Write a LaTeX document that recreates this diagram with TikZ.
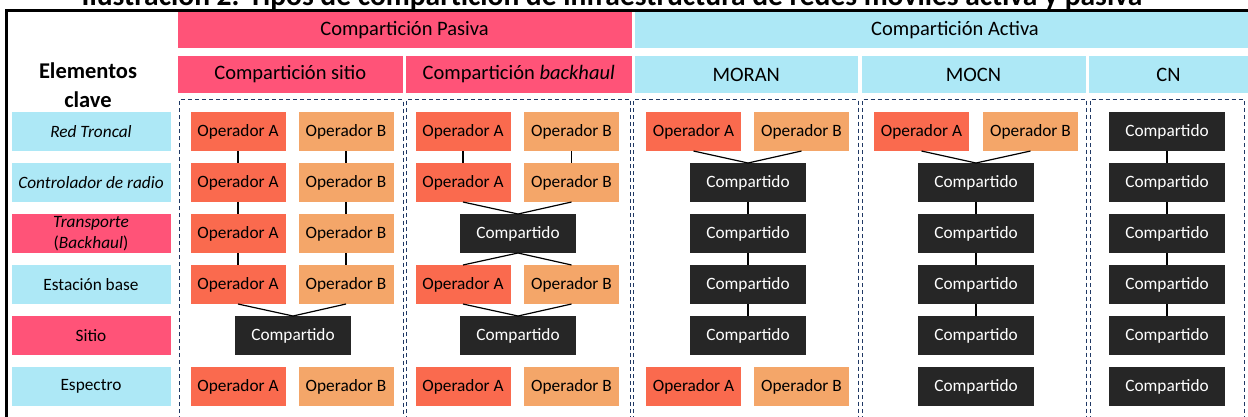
\documentclass[tikz,border=0pt]{standalone}
\usepackage{fontspec}
\setmainfont{Carlito}
\definecolor{pinkh}{RGB}{255,83,120}
\definecolor{cyanh}{RGB}{173,232,246}
\definecolor{opacol}{RGB}{250,106,78}
\definecolor{opbcol}{RGB}{244,166,105}
\definecolor{shcol}{RGB}{38,38,38}
\definecolor{navy}{RGB}{31,56,100}
\begin{document}
\begin{tikzpicture}[x=1pt,y=-1pt,
  box/.style={inner sep=0pt, outer sep=0pt, minimum height=39pt, font=\fontsize{17.3}{21}\selectfont},
  opa/.style={box, fill=opacol, minimum width=95pt},
  opb/.style={box, fill=opbcol, minimum width=95pt},
  shr/.style={box, fill=shcol, text=white, minimum width=116pt},
  lblc/.style={box, fill=cyanh, minimum width=159pt, align=center},
  lblp/.style={box, fill=pinkh, minimum width=159pt, align=center},
  hdr/.style={inner sep=0pt, outer sep=0pt, font=\fontsize{20.5}{24}\selectfont},
  conn/.style={line width=1.2pt, black},
  dbox/.style={draw=navy, line width=1pt, dash pattern=on 4pt off 3pt}
]
\useasboundingbox (0,0) rectangle (1248,416);
\clip (0,0) rectangle (1248,416);
% title
\node[anchor=base, inner sep=0pt, font=\fontsize{29.5}{34}\selectfont\bfseries] (title) at (612,5.5) {Ilustración 2. Tipos de compartición de infraestructura de redes móviles activa y pasiva};
% frame
\draw[line width=2.5pt] (6.5,420) -- (6.5,10.5) -- (1252,10.5);
% headers row 1
\node[hdr, fill=pinkh, minimum width=454pt, minimum height=36pt] (pas) at (404.5,30) {Compartición Pasiva};
\node[hdr, fill=cyanh, minimum width=616pt, minimum height=36pt] (act) at (942.5,30) {};
\node[hdr] (actt) at (955,30) {Compartición Activa};
% headers row 2
\node[hdr, fill=pinkh, minimum width=225.5pt, minimum height=37pt] (h1) at (290.25,74.5) {Compartición sitio};
\node[hdr, fill=pinkh, minimum width=225.5pt, minimum height=37pt] (h2) at (518.75,74.5) {Compartición \textit{backhaul}};
\node[hdr, fill=cyanh, minimum width=223.5pt, minimum height=37pt] (h3) at (746.25,74.5) {MORAN};
\node[hdr, fill=cyanh, minimum width=224pt, minimum height=37pt] (h4) at (973.5,74.5) {MOCN};
\node[hdr, fill=cyanh, minimum width=159pt, minimum height=37pt] (h5) at (1168.5,74.5) {CN};
% key elements
\node[align=center, inner sep=0pt, font=\fontsize{22.5}{29}\selectfont\bfseries] (ek) at (88,85) {Elementos\\clave};
% left labels
\node[lblc] (l1) at (91,131.5) {\textit{Red Troncal}};
\node[lblc] (l2) at (91,182.5) {\textit{Controlador de radio}};
\node[lblp, font=\fontsize{17.3}{21.5}\selectfont] (l3) at (91,233.5) {\textit{Transporte}\\(\textit{Backhaul})};
\node[lblc] (l4) at (91,284.5) {Estación base};
\node[lblp] (l5) at (91,335.5) {Sitio};
\node[lblc] (l6) at (91,386.5) {Espectro};
% dashed column boxes
\draw[dbox] (179.5,420) -- (179.5,99.5) -- (403,99.5) -- (403,420);
\draw[dbox] (406.5,420) -- (406.5,99.5) -- (630.5,99.5) -- (630.5,420);
\draw[dbox] (633.5,420) -- (633.5,99.5) -- (858,99.5) -- (858,420);
\draw[dbox] (862,420) -- (862,99.5) -- (1086.5,99.5) -- (1086.5,420);
\draw[dbox] (1090,420) -- (1090,99.5) -- (1244,99.5) -- (1244,420);
% column 1
\node[opa] (a11) at (238,131.5) {Operador A};
\node[opb] (b11) at (346,131.5) {Operador B};
\node[opa] (a12) at (238,182.5) {Operador A};
\node[opb] (b12) at (346,182.5) {Operador B};
\node[opa] (a13) at (238,233.5) {Operador A};
\node[opb] (b13) at (346,233.5) {Operador B};
\node[opa] (a14) at (238,284.5) {Operador A};
\node[opb] (b14) at (346,284.5) {Operador B};
\node[shr] (s15) at (293,335.5) {Compartido};
\node[opa] (a16) at (238,386.5) {Operador A};
\node[opb] (b16) at (346,386.5) {Operador B};
\draw[conn] (a11) -- (a12); \draw[conn] (a12) -- (a13); \draw[conn] (a13) -- (a14);
\draw[conn] (b11) -- (b12); \draw[conn] (b12) -- (b13); \draw[conn] (b13) -- (b14);
\draw[conn] (a14.south) -- (s15.north) -- (b14.south);
% column 2
\node[opa] (a21) at (463,131.5) {Operador A};
\node[opb] (b21) at (571.5,131.5) {Operador B};
\node[opa] (a22) at (463,182.5) {Operador A};
\node[opb] (b22) at (571.5,182.5) {Operador B};
\node[shr] (s23) at (518,233.5) {Compartido};
\node[opa] (a24) at (463,284.5) {Operador A};
\node[opb] (b24) at (571.5,284.5) {Operador B};
\node[shr] (s25) at (518,335.5) {Compartido};
\node[opa] (a26) at (463,386.5) {Operador A};
\node[opb] (b26) at (571.5,386.5) {Operador B};
\draw[conn] (a21) -- (a22); \draw[conn] (b21) -- (b22);
\draw[conn] (a22.south) -- (s23.north) -- (b22.south);
\draw[conn] (a24.north) -- (s23.south) -- (b24.north);
\draw[conn] (a24.south) -- (s25.north) -- (b24.south);
% column 3
\node[opa] (a31) at (693.5,131.5) {Operador A};
\node[opb] (b31) at (801.5,131.5) {Operador B};
\node[shr] (s32) at (748,182.5) {Compartido};
\node[shr] (s33) at (748,233.5) {Compartido};
\node[shr] (s34) at (748,284.5) {Compartido};
\node[shr] (s35) at (748,335.5) {Compartido};
\node[opa] (a36) at (693.5,386.5) {Operador A};
\node[opb] (b36) at (801.5,386.5) {Operador B};
\draw[conn] (a31.south) -- (s32.north) -- (b31.south);
\draw[conn] (s32) -- (s33); \draw[conn] (s33) -- (s34); \draw[conn] (s34) -- (s35);
% column 4
\node[opa] (a41) at (921.5,131.5) {Operador A};
\node[opb] (b41) at (1030.5,131.5) {Operador B};
\node[shr] (s42) at (976,182.5) {Compartido};
\node[shr] (s43) at (976,233.5) {Compartido};
\node[shr] (s44) at (976,284.5) {Compartido};
\node[shr] (s45) at (976,335.5) {Compartido};
\node[shr] (s46) at (976,386.5) {Compartido};
\draw[conn] (a41.south) -- (s42.north) -- (b41.south);
\draw[conn] (s42) -- (s43); \draw[conn] (s43) -- (s44); \draw[conn] (s44) -- (s45);
% column 5
\node[shr] (s51) at (1167,131.5) {Compartido};
\node[shr] (s52) at (1167,182.5) {Compartido};
\node[shr] (s53) at (1167,233.5) {Compartido};
\node[shr] (s54) at (1167,284.5) {Compartido};
\node[shr] (s55) at (1167,335.5) {Compartido};
\node[shr] (s56) at (1167,386.5) {Compartido};
\draw[conn] (s51) -- (s52); \draw[conn] (s52) -- (s53); \draw[conn] (s53) -- (s54); \draw[conn] (s54) -- (s55);
\end{tikzpicture}
\end{document}
